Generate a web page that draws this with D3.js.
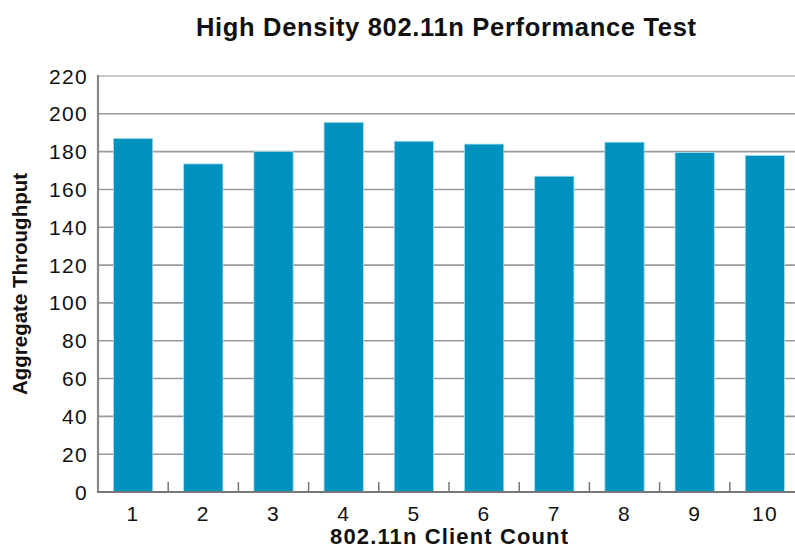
<!DOCTYPE html>
<html>
<head>
<meta charset="utf-8">
<script src="https://cdn.jsdelivr.net/npm/d3@7"></script>
<style>
  body { margin: 0; background: #fff; }
  text { font-family: "Liberation Sans", Arial, Helvetica, sans-serif; fill: #111; }
</style>
</head>
<body>
<div id="root"></div>
<script>
const clientCounts = ["1", "2", "3", "4", "5", "6", "7", "8", "9", "10"];
const throughput = [187, 173.5, 180, 195.5, 185.5, 184, 167, 185, 179.5, 178];
const yTicks = [0, 20, 40, 60, 80, 100, 120, 140, 160, 180, 200, 220];

const WIDTH = 795;
const HEIGHT = 550;
const PLOT_LEFT = 98;
const PLOT_RIGHT = 800;
const PLOT_TOP = 76;
const PLOT_BOTTOM = 492;

const svg = d3
  .select("#root")
  .append("svg")
  .attr("width", WIDTH)
  .attr("height", HEIGHT)
  .attr("viewBox", `0 0 ${WIDTH} ${HEIGHT}`);

const x = d3
  .scaleBand()
  .domain(clientCounts)
  .range([PLOT_LEFT, PLOT_RIGHT])
  .paddingInner(0.44)
  .paddingOuter(0.22);

const xStep = d3.scaleBand().domain(clientCounts).range([PLOT_LEFT, PLOT_RIGHT]);

const y = d3.scaleLinear().domain([0, 220]).range([PLOT_BOTTOM, PLOT_TOP]);

// gridlines
svg
  .append("g")
  .selectAll("line")
  .data(yTicks.filter((d) => d > 0))
  .join("line")
  .attr("x1", PLOT_LEFT)
  .attr("x2", WIDTH)
  .attr("y1", (d) => y(d))
  .attr("y2", (d) => y(d))
  .attr("stroke", (d) => (d === 220 ? "#b8b8b8" : "#9a9a9a"))
  .attr("stroke-width", 1.6);

// bars
svg
  .append("g")
  .selectAll("rect")
  .data(throughput)
  .join("rect")
  .attr("x", (d, i) => x(clientCounts[i]))
  .attr("y", (d) => y(d))
  .attr("width", x.bandwidth())
  .attr("height", (d) => y(0) - y(d))
  .attr("fill", "#0092bf")
  .attr("stroke", "#a8dcef")
  .attr("stroke-width", 0.8);

// category separator ticks
svg
  .append("g")
  .selectAll("line")
  .data(clientCounts.slice(1))
  .join("line")
  .attr("x1", (d) => xStep(d))
  .attr("x2", (d) => xStep(d))
  .attr("y1", PLOT_BOTTOM)
  .attr("y2", PLOT_BOTTOM - 10)
  .attr("stroke", "#777")
  .attr("stroke-width", 1.5);

// axis lines
svg
  .append("line")
  .attr("x1", PLOT_LEFT)
  .attr("x2", PLOT_LEFT)
  .attr("y1", PLOT_TOP - 1)
  .attr("y2", PLOT_BOTTOM + 1)
  .attr("stroke", "#888")
  .attr("stroke-width", 2.2);

svg
  .append("line")
  .attr("x1", PLOT_LEFT - 1)
  .attr("x2", WIDTH)
  .attr("y1", PLOT_BOTTOM)
  .attr("y2", PLOT_BOTTOM)
  .attr("stroke", "#777")
  .attr("stroke-width", 2.2);

// y tick labels
svg
  .append("g")
  .selectAll("text")
  .data(yTicks)
  .join("text")
  .attr("x", PLOT_LEFT - 10)
  .attr("y", (d) => y(d))
  .attr("dy", "0.36em")
  .attr("text-anchor", "end")
  .attr("font-size", 21)
  .attr("letter-spacing", 1.3)
  .text((d) => d);

// x tick labels
svg
  .append("g")
  .selectAll("text")
  .data(clientCounts)
  .join("text")
  .attr("x", (d) => x(d) + x.bandwidth() / 2)
  .attr("y", 521)
  .attr("text-anchor", "middle")
  .attr("font-size", 21)
  .attr("letter-spacing", 1.3)
  .text((d) => d);

svg
  .append("text")
  .attr("x", 330)
  .attr("y", 544)
  .attr("font-size", 22)
  .attr("font-weight", "bold")
  .attr("textLength", 238)
  .attr("lengthAdjust", "spacing")
  .text("802.11n Client Count");

svg
  .append("text")
  .attr("transform", "translate(27,284) rotate(-90)")
  .attr("text-anchor", "middle")
  .attr("font-size", 20.5)
  .attr("font-weight", "bold")
  .text("Aggregate Throughput");

svg
  .append("text")
  .attr("x", 196)
  .attr("y", 36)
  .attr("font-size", 25.5)
  .attr("font-weight", "bold")
  .attr("textLength", 500)
  .attr("lengthAdjust", "spacing")
  .text("High Density 802.11n Performance Test");
</script>
</body>
</html>
